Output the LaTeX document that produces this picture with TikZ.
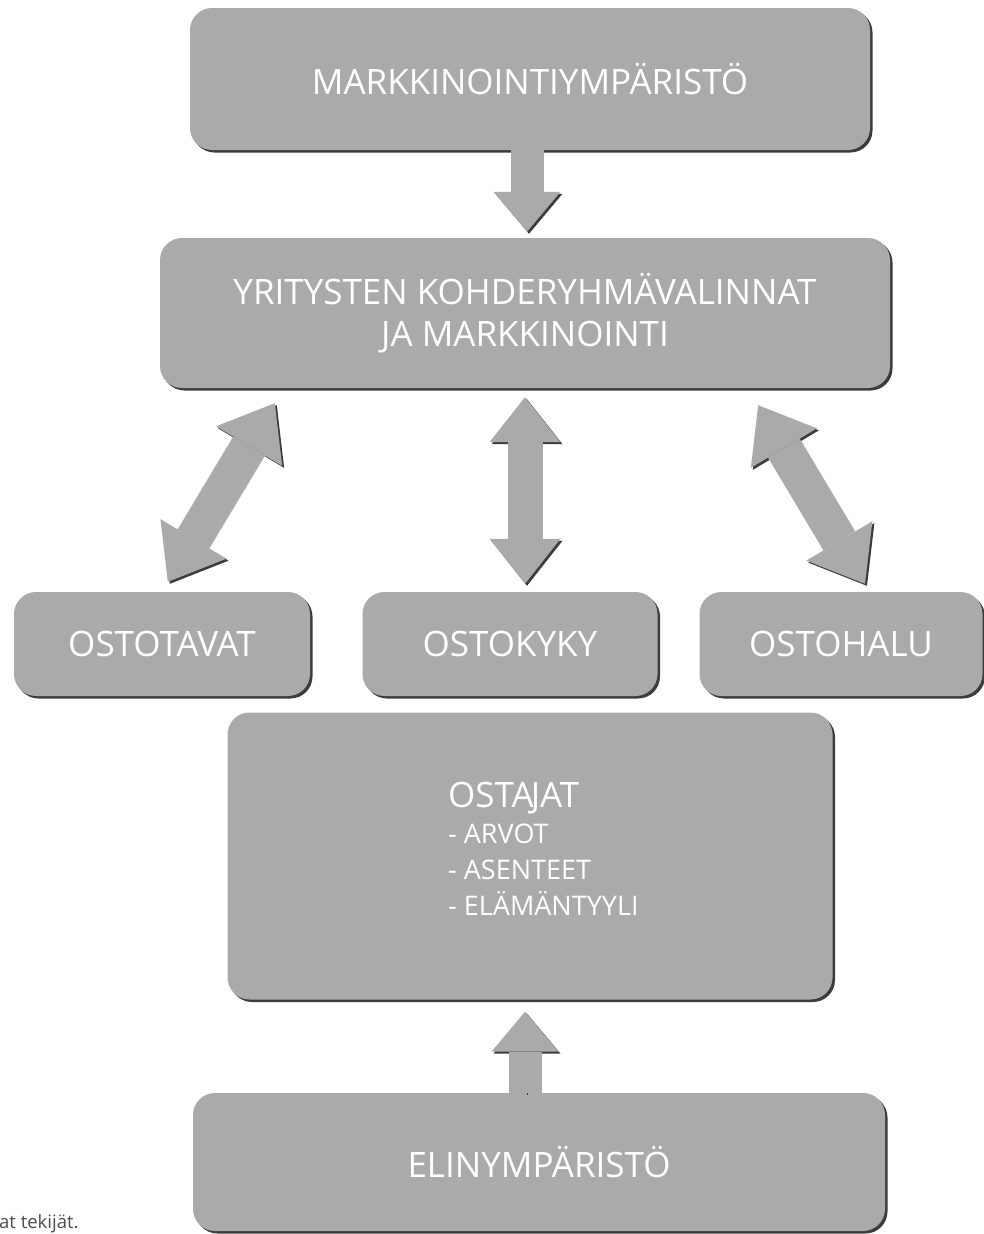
\documentclass[tikz,border=0pt]{standalone}
\usepackage{fontspec}
\setmainfont{Open Sans}
\usetikzlibrary{arrows.meta,shadows}
\definecolor{boxgray}{HTML}{AAAAAA}
\definecolor{shadowgray}{HTML}{3C3C3C}
\newcommand{\subline}[1]{{\fontsize{27}{36}\selectfont #1}}
\tikzset{
  blockbox/.style={rounded corners=22pt, fill=boxgray, text=white, align=center, inner sep=0pt,
    font=\fontsize{35}{42}\selectfont,
    drop shadow={shadow xshift=2.5pt, shadow yshift=-2.5pt, fill=shadowgray, opacity=1}},
  fatline/.style={draw=boxgray, line width=#1,
    preaction={draw=shadowgray, transform canvas={shift={(2pt,-2pt)}}}}
}
\begin{document}
\begin{tikzpicture}[x=1pt,y=-1pt]
\useasboundingbox (0,0) rectangle (983,1234);

\node[blockbox, minimum width=680pt, minimum height=142pt] (mark) at (530,79) {MARKKINOINTIYMPÄRISTÖ};
\node[blockbox, minimum width=730pt, minimum height=150pt] (yrit) at (525,313) {YRITYSTEN KOHDERYHMÄVALINNAT\\JA MARKKINOINTI};
\node[blockbox, minimum width=296pt, minimum height=104pt] (tavat) at (162,644) {OSTOTAVAT};
\node[blockbox, minimum width=295pt, minimum height=104pt] (kyky) at (510,644) {OSTOKYKY};
\node[blockbox, minimum width=283pt, minimum height=104pt] (halu) at (841,644) {OSTOHALU};
\node[blockbox, minimum width=605pt, minimum height=287pt] (ostajat) at (530,856) {};
\node[anchor=north west, text=white, align=left, inner sep=0pt, font=\fontsize{35}{36}\selectfont] (ostajattxt) at (448,782)
  {OSTA\kern-3pt JAT\\\subline{- ARVOT}\\\subline{- ASENTEET}\\\subline{- ELÄMÄNTYYLI}};
\node[blockbox, minimum width=692pt, minimum height=138pt] (elin) at (539,1162) {ELINYMPÄRISTÖ};
\node[anchor=base west, text=black!70, font=\fontsize{18.5}{22}\selectfont, inner sep=0pt] (lahde) at (-1,1228) {at tekijät.};

\coordinate (l1) at ([xshift=115pt,yshift=-15pt]yrit.south west);
\coordinate (l2) at ([xshift=154pt,yshift=10pt]tavat.north west);
\coordinate (m1) at ([yshift=-9pt]yrit.south);
\coordinate (m2) at ([yshift=8pt]yrit.south |- kyky.north);
\coordinate (r1) at ([xshift=-132pt,yshift=-17pt]yrit.south east);
\coordinate (r2) at ([xshift=24pt,yshift=8pt]halu.north);

\draw[fatline=33pt, -{Triangle[width=67pt,length=40pt,line width=0pt]}] ([xshift=-3pt]mark.south) -- ([xshift=2pt,yshift=6pt]yrit.north);
\draw[fatline=37pt, {Triangle[width=77pt,length=50pt,line width=0pt]}-{Triangle[width=77pt,length=50pt,line width=0pt]}] (l1) -- (l2);
\draw[fatline=35pt, {Triangle[width=71pt,length=45pt,line width=0pt]}-{Triangle[width=71pt,length=45pt,line width=0pt]}] (m1) -- (m2);
\draw[fatline=37pt, {Triangle[width=77pt,length=50pt,line width=0pt]}-{Triangle[width=77pt,length=50pt,line width=0pt]}] (r1) -- (r2);
\draw[fatline=33pt, -{Triangle[width=67pt,length=40pt,line width=0pt]}] ([xshift=-14pt]elin.north) -- ([xshift=-5pt,yshift=-12pt]ostajat.south);
\end{tikzpicture}
\end{document}
